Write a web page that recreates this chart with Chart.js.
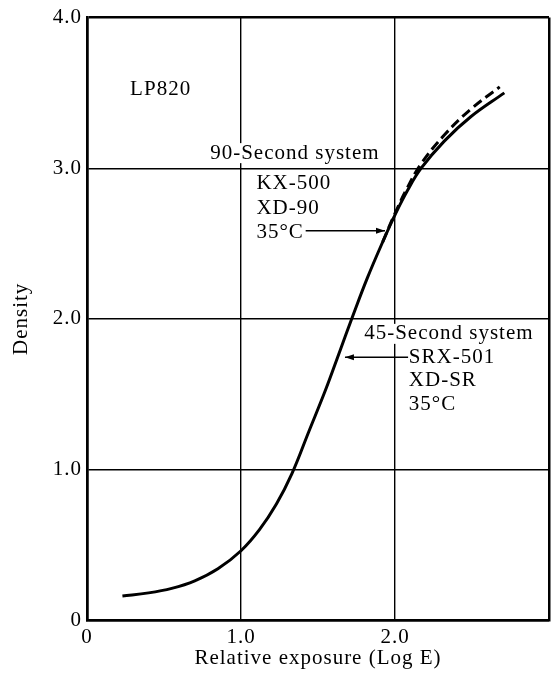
<!DOCTYPE html>
<html>
<head>
<meta charset="utf-8">
<script src="https://cdn.jsdelivr.net/npm/chart.js@4"></script>
<style>
  html, body { margin: 0; padding: 0; background: #fff; }
  #wrap { width: 558px; height: 680px; }
</style>
</head>
<body>
<div id="wrap"><canvas id="density"></canvas></div>
<script>
// solid curve
const solidExposure = [0.23, 0.40, 0.55, 0.70, 0.85, 1.00, 1.12, 1.23, 1.33, 1.44, 1.55, 1.64, 1.73, 1.82, 1.92, 2.00, 2.08, 2.17, 2.32, 2.49, 2.71];
const solidDensity  = [0.16, 0.18, 0.21, 0.26, 0.34, 0.46, 0.60, 0.77, 0.97, 1.25, 1.53, 1.78, 2.03, 2.27, 2.51, 2.69, 2.85, 3.00, 3.18, 3.34, 3.50];

// dashed curve (splits off from the solid one near the top)
const dashedExposure = [1.92, 2.00, 2.08, 2.17, 2.32, 2.49, 2.68];
const dashedDensity  = [2.51, 2.70, 2.87, 3.03, 3.22, 3.39, 3.54];

const xTicks = [0, 1, 2, 3];
const yTicks = [0, 1, 2, 3, 4];

const toPoints = (xs, ys) => xs.map((x, i) => ({ x: x, y: ys[i] }));

// text labels, placed in data units
const notes = [
  { text: 'LP820', x: 0.28, y: 3.52 },
  { text: '90-Second system', x: 0.80, y: 3.10, blank: true },
  { text: 'KX-500', x: 1.10, y: 2.90 },
  { text: 'XD-90', x: 1.10, y: 2.73 },
  { text: '35°C', x: 1.10, y: 2.57 },
  { text: '45-Second system', x: 1.80, y: 1.90, blank: true },
  { text: 'SRX-501', x: 2.09, y: 1.745, blank: true },
  { text: 'XD-SR', x: 2.09, y: 1.59 },
  { text: '35°C', x: 2.09, y: 1.43 },
];
const arrows = [
  { from: [1.42, 2.585], to: [1.935, 2.585] },
  { from: [2.085, 1.745], to: [1.675, 1.745] },
];

Chart.defaults.font.family = "'Liberation Serif', serif";
Chart.defaults.font.size = 21;
Chart.defaults.color = '#000';

const spacing = {
  id: 'spacing',
  beforeLayout(chart) { chart.ctx.letterSpacing = '1px'; },
  beforeDraw(chart) { chart.ctx.letterSpacing = '1px'; },
};

function drawArrow(ctx, x1, y1, x2, y2) {
  ctx.beginPath();
  ctx.moveTo(x1, y1);
  ctx.lineTo(x2, y2);
  ctx.stroke();
  const a = Math.atan2(y2 - y1, x2 - x1);
  const len = 9, half = 3;
  ctx.beginPath();
  ctx.moveTo(x2, y2);
  ctx.lineTo(x2 - len * Math.cos(a) + half * Math.sin(a), y2 - len * Math.sin(a) - half * Math.cos(a));
  ctx.lineTo(x2 - len * Math.cos(a) - half * Math.sin(a), y2 - len * Math.sin(a) + half * Math.cos(a));
  ctx.closePath();
  ctx.fill();
}

const labels = {
  id: 'labels',
  afterDatasetsDraw(chart) {
    const ctx = chart.ctx;
    const xs = chart.scales.x, ys = chart.scales.y;
    ctx.save();
    ctx.letterSpacing = '1px';
    ctx.font = "21px 'Liberation Serif', serif";
    ctx.textBaseline = 'middle';
    ctx.textAlign = 'left';
    notes.forEach(n => {
      const px = xs.getPixelForValue(n.x);
      const py = ys.getPixelForValue(n.y);
      if (n.blank) {
        const w = ctx.measureText(n.text).width;
        ctx.fillStyle = '#fff';
        ctx.fillRect(px - 2, py - 10, w + 4, 20);
      }
      ctx.fillStyle = '#000';
      ctx.fillText(n.text, px, py);
    });
    ctx.strokeStyle = '#000';
    ctx.fillStyle = '#000';
    ctx.lineWidth = 1.5;
    arrows.forEach(a => {
      drawArrow(ctx,
        xs.getPixelForValue(a.from[0]), ys.getPixelForValue(a.from[1]),
        xs.getPixelForValue(a.to[0]), ys.getPixelForValue(a.to[1]));
    });
    ctx.restore();
  }
};

const edgeWidth = (scale) => (context) =>
  (context.tick && (context.tick.value === scale[0] || context.tick.value === scale[scale.length - 1])) ? 2.5 : 1.4;

new Chart(document.getElementById('density'), {
  type: 'line',
  data: {
    datasets: [
      {
        label: 'solid',
        data: toPoints(solidExposure, solidDensity),
        borderColor: '#000',
        borderWidth: 3,
        pointRadius: 0,
        fill: false,
        tension: 0.4,
      },
      {
        label: 'dashed',
        data: toPoints(dashedExposure, dashedDensity),
        borderColor: '#000',
        borderWidth: 3,
        borderDash: [10, 5],
        pointRadius: 0,
        fill: false,
        tension: 0.4,
      },
    ],
  },
  options: {
    responsive: true,
    maintainAspectRatio: false,
    animation: false,
    layout: { padding: { top: 15, right: 9, left: 0, bottom: 0 } },
    plugins: { legend: { display: false }, tooltip: { enabled: false } },
    scales: {
      x: {
        type: 'linear',
        min: xTicks[0],
        max: xTicks[xTicks.length - 1],
        afterBuildTicks: (scale) => { scale.ticks = xTicks.map(v => ({ value: v })); },
        afterFit: (scale) => { scale.height = 60; },
        ticks: {
          padding: 5,
          maxRotation: 0,
          callback: (v) => v === 0 ? '0' : (v === 3 ? '' : v.toFixed(1)),
        },
        grid: { color: '#000', lineWidth: edgeWidth(xTicks), drawTicks: false },
        border: { display: true, color: '#000', width: 2.5 },
        title: { display: true, text: 'Relative exposure (Log E)', padding: { top: 0, bottom: 9 } },
      },
      y: {
        min: yTicks[0],
        max: yTicks[yTicks.length - 1],
        afterBuildTicks: (scale) => { scale.ticks = yTicks.map(v => ({ value: v })); },
        afterFit: (scale) => { scale.width = 87; },
        ticks: {
          padding: 5,
          callback: (v) => v === 0 ? '0' : v.toFixed(1),
        },
        grid: { color: '#000', lineWidth: edgeWidth(yTicks), drawTicks: false },
        border: { display: true, color: '#000', width: 2.5 },
        title: { display: true, text: 'Density', padding: { top: 9, bottom: 0 } },
      },
    },
  },
  plugins: [spacing, labels],
});
</script>
</body>
</html>
